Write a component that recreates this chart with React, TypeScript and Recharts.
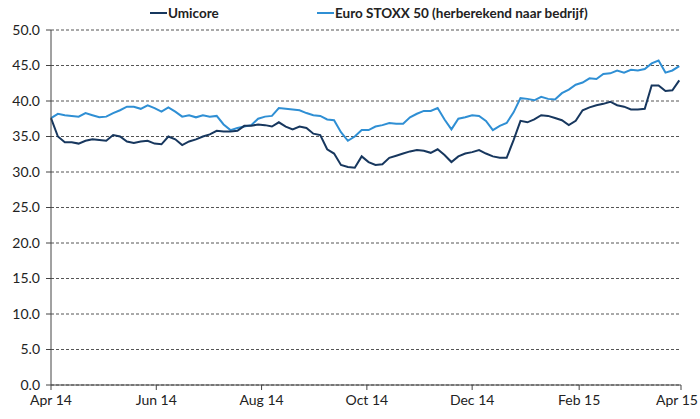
import { CartesianGrid, Line, LineChart, XAxis, YAxis } from "recharts";

// sampled every 4 days from 1 Apr 2014
const dayOffsets = Array.from({ length: 92 }, (_, i) => i * 4);

const umicore = [
	37.6, 35.0, 34.2, 34.2, 34.0, 34.4, 34.6, 34.5, 34.4, 35.2,
	35.0, 34.3, 34.1, 34.3, 34.4, 34.0, 33.9, 35.0, 34.6, 33.8,
	34.3, 34.6, 35.0, 35.3, 35.8, 35.7, 35.7, 35.8, 36.5, 36.5,
	36.7, 36.6, 36.4, 37.0, 36.4, 36.0, 36.4, 36.2, 35.4, 35.2,
	33.2, 32.6, 31.0, 30.7, 30.6, 32.2, 31.4, 31.0, 31.1, 32.0,
	32.3, 32.6, 32.9, 33.1, 33.0, 32.7, 33.2, 32.4, 31.4, 32.2,
	32.6, 32.8, 33.1, 32.6, 32.2, 32.0, 32.0, 34.5, 37.2, 37.0,
	37.4, 38.0, 37.9, 37.6, 37.3, 36.6, 37.2, 38.7, 39.1, 39.4,
	39.6, 39.9, 39.4, 39.2, 38.8, 38.8, 38.9, 42.2, 42.2, 41.4,
	41.5, 42.9,
];

const euroStoxx = [
	37.6, 38.2, 38.0, 37.9, 37.8, 38.3, 38.0, 37.7, 37.8, 38.3,
	38.7, 39.2, 39.2, 38.9, 39.4, 39.0, 38.5, 39.1, 38.5, 37.8,
	38.0, 37.7, 38.0, 37.8, 37.9, 36.7, 35.9, 36.2, 36.4, 36.6,
	37.5, 37.8, 37.9, 39.0, 38.9, 38.8, 38.7, 38.3, 38.0, 37.9,
	37.4, 37.3, 35.6, 34.4, 35.0, 35.9, 35.9, 36.4, 36.6, 36.9,
	36.8, 36.8, 37.7, 38.2, 38.6, 38.6, 39.0, 37.4, 36.0, 37.5,
	37.7, 38.0, 37.9, 37.2, 35.9, 36.5, 36.9, 38.4, 40.4, 40.3,
	40.1, 40.6, 40.3, 40.2, 41.1, 41.6, 42.3, 42.6, 43.2, 43.1,
	43.8, 43.9, 44.3, 44.0, 44.4, 44.3, 44.5, 45.3, 45.7, 44.0,
	44.3, 44.9,
];

const tickDays = [0, 61, 122, 183, 244, 306, 365];
const tickLabels = ["Apr 14", "Jun 14", "Aug 14", "Oct 14", "Dec 14", "Feb 15", "Apr 15"];
const yTicks = [0, 5, 10, 15, 20, 25, 30, 35, 40, 45, 50];

const data = dayOffsets.map((d, i) => ({
	d,
	umicore: umicore[i],
	euroStoxx: euroStoxx[i],
}));

const font = "Lato, 'Open Sans', sans-serif";
const dark = "#17375e";
const light = "#2f8fd4";

function LegendItem({ color, label, left }: { color: string; label: string; left: number }) {
	return (
		<div style={{ position: "absolute", left, top: 5, display: "flex", alignItems: "center" }}>
			<span style={{ display: "inline-block", width: 17, height: 2.5, background: color, marginRight: 1 }} />
			<span style={{ fontSize: 13.5, fontWeight: 700, color: "#222", fontFamily: font }}>{label}</span>
		</div>
	);
}

// keeps the last date label inside the picture
function DateTick({ x, y, payload }: any) {
	const label = tickLabels[tickDays.indexOf(payload.value)] ?? "";
	const last = payload.value === tickDays[tickDays.length - 1];
	return (
		<text
			x={last ? 698 : x}
			y={y + 13}
			textAnchor={last ? "end" : "middle"}
			fill="#222"
			fontSize={14}
			fontFamily={font}
		>
			{label}
		</text>
	);
}

export default function App() {
	return (
		<div style={{ position: "absolute", left: 0, top: 0, width: 700, height: 419, background: "#fff" }}>
			<LegendItem color={dark} label="Umicore" left={150} />
			<LegendItem color={light} label="Euro STOXX 50 (herberekend naar bedrijf)" left={317} />
			<LineChart
				width={700}
				height={419}
				data={data}
				margin={{ top: 30, right: 19, bottom: 0, left: 0 }}
				style={{ position: "absolute", left: 0, top: 0 }}
			>
				<CartesianGrid vertical={false} stroke="#555" strokeDasharray="3 2" />
				<XAxis
					dataKey="d"
					type="number"
					domain={[0, 365]}
					ticks={tickDays}
					height={34}
					interval={0}
					tickSize={5}
					axisLine={{ stroke: "#444" }}
					tickLine={{ stroke: "#444" }}
					tick={<DateTick />}
				/>
				<YAxis
					domain={[0, 50]}
					ticks={yTicks}
					width={51}
					interval={0}
					tickSize={5}
					tickMargin={6}
					tickFormatter={(v: number) => v.toFixed(1)}
					axisLine={{ stroke: "#444" }}
					tickLine={{ stroke: "#444" }}
					tick={{ fill: "#222", fontSize: 14, fontFamily: font }}
				/>
				<Line
					dataKey="euroStoxx"
					type="linear"
					stroke={light}
					strokeWidth={2}
					dot={false}
					isAnimationActive={false}
				/>
				<Line
					dataKey="umicore"
					type="linear"
					stroke={dark}
					strokeWidth={2}
					dot={false}
					isAnimationActive={false}
				/>
			</LineChart>
		</div>
	);
}
